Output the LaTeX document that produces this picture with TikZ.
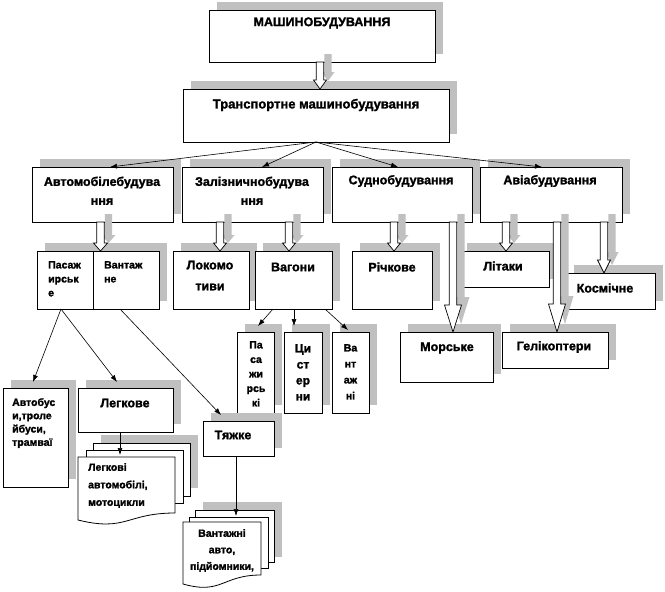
\documentclass[tikz,border=0pt]{standalone}
\usepackage{fontspec}
\setmainfont{Liberation Sans}[BoldFeatures={FakeBold=1.6}]
\usetikzlibrary{shadows,arrows.meta,calc}
\definecolor{shgray}{RGB}{192,192,192}
\tikzset{
 box/.style={draw=black, fill=white, line width=0.8pt, inner sep=0pt, outer sep=0pt,
   drop shadow={shadow xshift=8pt, shadow yshift=8pt, opacity=1, fill=shgray}},
 big/.style={font=\bfseries\fontsize{12.5}{19}\selectfont, inner sep=0pt},
 mid/.style={font=\bfseries\fontsize{12}{16}\selectfont, inner sep=0pt},
 small/.style={font=\bfseries\fontsize{10.5}{14}\selectfont, inner sep=0pt},
 con/.style={-{Latex[length=7pt,width=5pt]}, line width=0.6pt},
 page/.style={draw=black, fill=white, line width=0.8pt},
 harrow/.style={fill=white, draw=black, line width=0.7pt},
 harrowsh/.style={fill=shgray},
}
\newcommand\bx[5]{\node[box, anchor=north west, minimum width={(#4-#2)*1pt}, minimum height={(#5-#3)*1pt}] (#1) at (#2,#3) {};}
\def\harrhs{3.7pt}
% #1 style, #2 shift, #3 source anchor, #4 xshift, #5 target anchor, #6 head length, #7 half head width
\newcommand\arrpath[7]{%
  \path[#1] let \p1=([xshift=#4pt]#3), \p2=(#5) in
   (\x1+#2pt-\harrhs,\y1+#2pt) -- (\x1+#2pt-\harrhs,\y2+#6pt+#2pt) -- (\x1+#2pt-#7pt,\y2+#6pt+#2pt)
   -- (\x1+#2pt,\y2+#2pt) -- (\x1+#2pt+#7pt,\y2+#6pt+#2pt) -- (\x1+#2pt+\harrhs,\y2+#6pt+#2pt)
   -- (\x1+#2pt+\harrhs,\y1+#2pt) -- cycle;}
\newcommand\hollowarr[5]{\arrpath{harrowsh}{8}{#1}{#2}{#3}{#4}{#5}\arrpath{harrow}{0}{#1}{#2}{#3}{#4}{#5}}
\begin{document}
\begin{tikzpicture}[x=1pt,y=-1pt]
\fill[white] (0,0) rectangle (665,592);
\useasboundingbox (0,0) rectangle (665,592);

% boxes
\bx{mash}{209}{10}{435}{62}
\bx{trans}{183}{89}{449}{142}
\bx{auto}{32}{167}{173}{222}
\bx{rail}{182}{167}{323}{222}
\bx{ship}{332}{167}{472}{222}
\bx{avia}{480}{167}{622}{222}
\bx{pasL}{37}{251}{93}{309}
\bx{pasR}{93}{251}{159}{309}
\bx{loco}{173}{251}{249}{309}
\bx{wag}{255}{251}{332}{309}
\bx{river}{352}{251}{432}{309}
\bx{lit}{459}{251}{549}{287}
\bx{cosm}{566}{273}{655}{309}
\bx{sea}{400}{332}{493}{382}
\bx{heli}{502}{332}{608}{368}
\bx{vpas}{237}{332}{274}{413}
\bx{cist}{284}{332}{322}{413}
\bx{vant}{332}{332}{369}{413}
\bx{bus}{3}{388}{68}{487}
\bx{light}{78}{388}{173}{432}
\bx{heavy}{203}{421}{274}{456}

% multi-document 1
\fill[shgray] (101,435) rectangle (198,488);
\draw[page] (93,443) rectangle (190,496);
\draw[page] (86,450) rectangle (183,503);
\draw[page] (78,457) -- (175,457) -- (175,513) .. controls (126.5,513) and (126.5,532) .. (78,520) -- cycle;
\coordinate (doc1) at (120,455);
% multi-document 2
\fill[shgray] (203,502) rectangle (282,557);
\draw[page] (195,510) rectangle (274,562);
\draw[page] (189,517) rectangle (268,568);
\draw[page] (183,522) -- (261,522) -- (261,575) .. controls (222,575) and (222,595) .. (183,584) -- cycle;
\coordinate (doc2) at (236,516);

% texts
\node[big] (tmash) at (322,23) {МАШИНОБУДУВАННЯ};
\node[big, font=\bfseries\fontsize{13}{19}\selectfont] (ttrans) at (316,105) {Транспортне машинобудування};
\node[big, align=center, anchor=north] (tauto) at (102,176.5) {Автомобілебудува\\ння};
\node[big, align=center, anchor=north] (trail) at (252,176.5) {Залізничнобудува\\ння};
\node[big] (tship) at (401,181) {Суднобудування};
\node[big] (tavia) at (550,181) {Авіабудування};
\node[small, align=left, anchor=north west] (tpas) at (48,261) {Пасаж\\ирськ\\е};
\node[small, align=left, anchor=north west] (tvan) at (104,261) {Вантаж\\не};
\node[big, align=center, anchor=north, font=\bfseries\fontsize{12.5}{21}\selectfont] (tloco) at (210,260.5) {Локомо\\тиви};
\node[big] (twag) at (293,267) {Вагони};
\node[big] (triver) at (392,267) {Річкове};
\node[big] (tlit) at (503,266) {Літаки};
\node[big] (tcosm) at (605,288) {Космічне};
\node[big] (tsea) at (447,348) {Морське};
\node[big] (theli) at (554,347) {Гелікоптери};
\node[small, align=center, anchor=north, font=\bfseries\fontsize{10.5}{14.5}\selectfont] (tvpas) at (256,341) {Па\\са\\жи\\рсь\\кі};
\node[mid, align=center, anchor=north] (tcist) at (303,344) {Ци\\ст\\ер\\ни};
\node[small, align=center, anchor=north, font=\bfseries\fontsize{10.5}{16}\selectfont] (tvant) at (350.5,344) {Ва\\нт\\аж\\ні};
\node[small, align=left, anchor=north west, font=\bfseries\fontsize{10.5}{13.3}\selectfont] (tbus) at (12,398) {Автобус\\и,троле\\йбуси,\\трамваї};
\node[big] (tlight) at (125,403) {Легкове};
\node[small, align=left, anchor=north west, font=\bfseries\fontsize{10.5}{17.5}\selectfont] (tdoc1) at (88,463) {Легкові\\автомобілі,\\мотоцикли};
\node[big] (theavy) at (233,435) {Тяжке};
\node[small, align=center, anchor=north, font=\bfseries\fontsize{10.5}{16.5}\selectfont] (tdoc2) at (222,529) {Вантажні\\авто,\\підйомники,};

% hollow block arrows
\hollowarr{mash.south}{-2}{trans.north}{9}{6.5}
\hollowarr{auto.south}{-2}{pasL.north}{8}{7}
\hollowarr{rail.south}{-32.5}{loco.north}{8}{6.5}
\hollowarr{rail.south}{36.5}{wag.north}{8}{6.5}
\hollowarr{ship.south}{-8}{river.north}{8}{6.5}
\hollowarr{ship.south}{51}{sea.north}{27}{8.5}
\hollowarr{avia.south}{-45}{lit.north}{8}{6.5}
\hollowarr{avia.south}{6}{heli.north}{28}{8.5}
\hollowarr{avia.south}{53}{cosm.north}{13}{6.5}

% thin connectors
\draw[con] (trans.south) -- ([xshift=7.5pt]auto.north);
\draw[con] (trans.south) -- ([xshift=9.5pt]rail.north);
\draw[con] (trans.south) -- ([xshift=-4pt]ship.north);
\draw[con] (trans.south) -- ([xshift=-9pt]avia.north);
\draw[con] ([xshift=-4pt]pasL.south) -- ([xshift=-2.5pt,yshift=6pt]bus.north);
\draw[con] ([xshift=-4pt]pasL.south) -- ([xshift=-8.5pt,yshift=6pt]light.north);
\draw[con] ([xshift=-6pt]pasR.south) -- ([xshift=-17.5pt,yshift=6pt]heavy.north);
\draw[con] ([xshift=-20.5pt]wag.south) -- ([xshift=2.5pt,yshift=6pt]vpas.north);
\draw[con] ([xshift=0.5pt]wag.south) -- ([xshift=-9pt,yshift=6pt]cist.north);
\draw[con] ([xshift=31.5pt]wag.south) -- ([xshift=-2.5pt,yshift=2pt]vant.north);
\draw[con] ([xshift=-5.5pt]light.south) -- (doc1);
\draw[con] ([xshift=-2.5pt]heavy.south) -- (doc2);
\end{tikzpicture}
\end{document}
